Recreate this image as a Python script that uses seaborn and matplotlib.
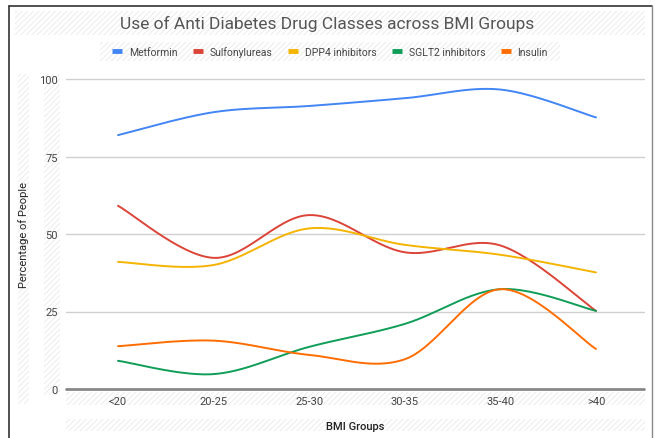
import numpy as np
import pandas as pd
import matplotlib
matplotlib.use("Agg")
import matplotlib.pyplot as plt
from matplotlib.patches import Rectangle
from matplotlib.lines import Line2D
import seaborn as sns

# BMI groups and share of people (%) using each drug class
bmi_groups = ["<20", "20-25", "25-30", "30-35", "35-40", ">40"]
metformin = [81.9, 89.3, 91.3, 93.8, 96.6, 87.6]
sulfonylureas = [59.1, 42.3, 56.1, 44.1, 46.3, 25.2]
dpp4_inhibitors = [41.0, 40.0, 51.8, 46.5, 43.3, 37.6]
sglt2_inhibitors = [9.1, 4.8, 13.6, 21.0, 32.2, 25.2]
insulin = [13.8, 15.6, 11.0, 9.6, 32.2, 12.9]

series_names = ["Metformin", "Sulfonylureas", "DPP4 inhibitors", "SGLT2 inhibitors", "Insulin"]
series_values = [metformin, sulfonylureas, dpp4_inhibitors, sglt2_inhibitors, insulin]
series_colors = ["#4285F4", "#DB4437", "#F4B400", "#0F9D58", "#FF6D00"]
y_ticks = [0, 25, 50, 75, 100]


def smooth_curve(xs, ys, t=1 / 6, n=30):
    """Cubic Bezier 'function' curve through the points (Catmull-Rom style)."""
    xs = np.asarray(xs, float)
    ys = np.asarray(ys, float)
    pts = np.column_stack([xs, ys])
    m = len(pts)
    out = []
    for i in range(m - 1):
        p0 = pts[i]
        p1 = pts[i + 1]
        prev = pts[i - 1] if i > 0 else pts[i]
        nxt = pts[i + 2] if i + 2 < m else pts[i + 1]
        c1 = p0 + t * (p1 - prev)
        c2 = p1 - t * (nxt - p0)
        s = np.linspace(0, 1, n, endpoint=(i == m - 2))[:, None]
        seg = ((1 - s) ** 3) * p0 + 3 * ((1 - s) ** 2) * s * c1 + 3 * (1 - s) * s ** 2 * c2 + s ** 3 * p1
        out.append(seg)
    out = np.vstack(out)
    return out[:, 0], out[:, 1]


sns.set_theme(style="white")
plt.rcParams["font.family"] = ["Roboto", "DejaVu Sans"]
plt.rcParams["hatch.linewidth"] = 0.7

W, H = 655, 439
fig = plt.figure(figsize=(W / 100, H / 100), dpi=100)
fig.patch.set_facecolor("white")


def fx(px):
    return px / W


def fy(py):
    return 1 - py / H


# light hatched bands behind the text areas
def band(x0, y0, x1, y1):
    fig.patches.append(Rectangle((fx(x0), fy(y1)), fx(x1) - fx(x0), fy(y0) - fy(y1),
                                 transform=fig.transFigure, facecolor="white",
                                 edgecolor="#ececec", hatch="//////", linewidth=0, zorder=-5))


band(15, 12, 645, 36)     # title
band(100, 43, 560, 62)    # legend
band(18, 75, 29, 405)     # y label
band(44, 75, 60, 396)     # y tick labels
band(66, 393, 645, 406)   # x tick labels
band(66, 420, 645, 432)   # x label

# outer frame
fig.add_artist(Line2D([fx(8.5), fx(8.5)], [fy(6.5), 0], transform=fig.transFigure, color="#333333", lw=1.2))
fig.add_artist(Line2D([fx(8.5), fx(652)], [fy(6.5), fy(6.5)], transform=fig.transFigure, color="#333333", lw=1.2))
fig.add_artist(Line2D([fx(652), fx(652)], [fy(6.5), 0], transform=fig.transFigure, color="#888888", lw=1.0))

ax = fig.add_axes([fx(66), fy(390), fx(644) - fx(66), fy(80) - fy(390)], zorder=2)
ax.set_facecolor("none")

positions = np.arange(len(bmi_groups))
for name, vals, col in zip(series_names, series_values, series_colors):
    cx, cy = smooth_curve(positions, vals)
    sns.lineplot(x=cx, y=cy, sort=False, estimator=None, color=col, linewidth=1.4, ax=ax, zorder=3)

ax.set_xlim(-0.544, 5.502)
ax.set_ylim(0, 100)
ax.set_yticks(y_ticks)
ax.set_yticklabels([str(v) for v in y_ticks])
ax.set_xticks(positions)
ax.set_xticklabels(bmi_groups)
ax.tick_params(axis="both", length=0, labelsize=8, labelcolor="#444444")
ax.tick_params(axis="y", pad=6)
ax.tick_params(axis="x", pad=5)
for v in y_ticks[1:]:
    ax.axhline(v, color="#d0d0d0", linewidth=1.0, zorder=1, clip_on=False)
ax.axhline(0, color="#888888", linewidth=2.0, zorder=2, clip_on=False)
for s in ax.spines.values():
    s.set_visible(False)
ax.grid(False)

ax.set_xlabel("BMI Groups", fontsize=8, color="#222222", fontweight="medium", labelpad=11)
ax.set_ylabel("Percentage of People", fontsize=8, color="#222222", labelpad=7)

fig.text(0.5, fy(24), "Use of Anti Diabetes Drug Classes across BMI Groups",
         ha="center", va="center", fontsize=12.5, color="#555555", zorder=3)

handles = [Line2D([0], [0], color=c, linewidth=3.5, solid_capstyle="butt") for c in series_colors]
leg = fig.legend(handles, series_names, loc="center", bbox_to_anchor=(fx(330), fy(52.5)), ncol=5,
                 frameon=False, fontsize=7.5, handlelength=1.0, handletextpad=0.6, columnspacing=1.5,
                 labelcolor="#444444")
leg.set_zorder(3)

fig.savefig("out.png", dpi=100, facecolor="white")
